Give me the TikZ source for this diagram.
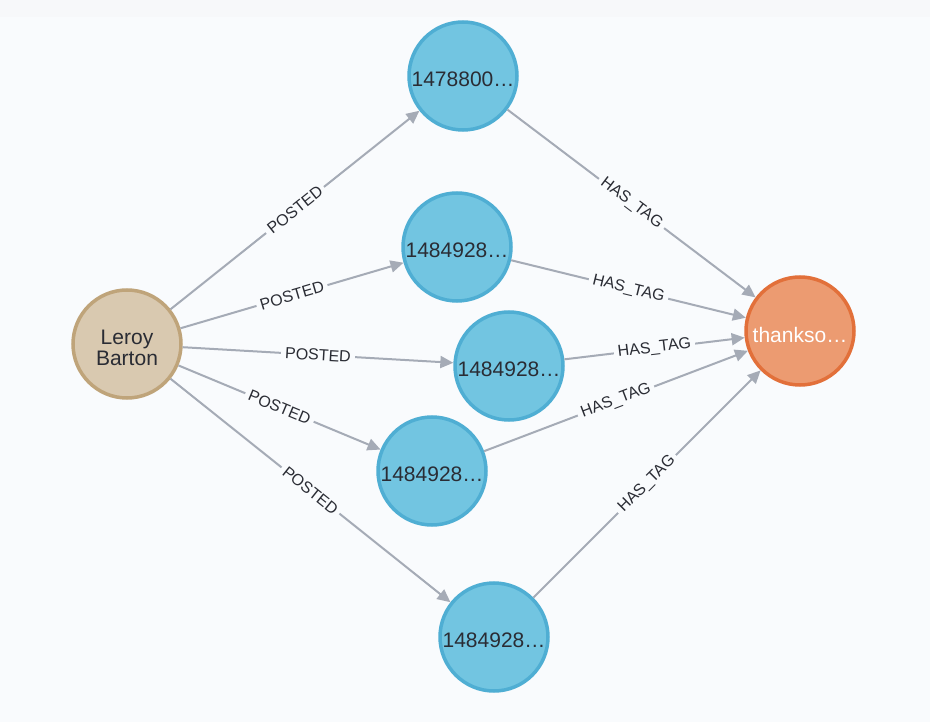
\documentclass[tikz,border=0pt]{standalone}
\usepackage{fontspec}
\setmainfont{Liberation Sans}
\usetikzlibrary{arrows.meta}
\definecolor{bg}{HTML}{F9FBFD}
\definecolor{bgtop}{HTML}{F7F8FA}
\definecolor{edgec}{HTML}{A5ABB6}
\definecolor{bluefill}{HTML}{72C5E1}
\definecolor{blueline}{HTML}{4FAED3}
\definecolor{tanfill}{HTML}{D9C9B0}
\definecolor{tanline}{HTML}{BFA47A}
\definecolor{orfill}{HTML}{EC9B71}
\definecolor{orline}{HTML}{E2703A}
\definecolor{txt}{HTML}{2A2C34}
\newcommand{\lowtxt}[1]{\raisebox{-3.5pt}[\height][\depth]{#1}}
\tikzset{
  gnode/.style={circle, minimum size=108pt, inner sep=0pt, line width=3.5pt,
    font=\fontsize{21}{21}\selectfont, text=txt, align=center},
  person/.style={gnode, fill=tanfill, draw=tanline},
  post/.style={gnode, fill=bluefill, draw=blueline},
  tagn/.style={gnode, fill=orfill, draw=orline, text=white},
  edge/.style={draw=edgec, line width=2pt, -{Triangle[length=13pt,width=12pt]}},
  lbl/.style={midway, sloped, fill=bg, inner xsep=4pt, inner ysep=1pt,
    font=\fontsize{16}{16}\selectfont, text=txt}
}
\begin{document}
\begin{tikzpicture}[x=1pt,y=-1pt]
\fill[bg] (0,0) rectangle (930,722);
\fill[bgtop] (0,0) rectangle (930,17);
\useasboundingbox (0,0) rectangle (930,722);

\node[person] (lb) at (127,344) {\lowtxt{Leroy}\\\lowtxt{Barton}};
\node[post] (p1) at (463,76) {\lowtxt{1478800…}};
\node[post] (p2) at (457,247) {\lowtxt{1484928…}};
\node[post] (p3) at (509,366) {\lowtxt{1484928…}};
\node[post] (p4) at (432,471) {\lowtxt{1484928…}};
\node[post] (p5) at (494,637) {\lowtxt{1484928…}};
\node[tagn] (t) at (800,331) {\lowtxt{thankso…}};

\draw[edge] (lb) -- node[lbl]{POSTED} (p1);
\draw[edge] (lb) -- node[lbl]{POSTED} (p2);
\draw[edge] (lb) -- node[lbl]{POSTED} (p3);
\draw[edge] (lb) -- node[lbl]{POSTED} (p4);
\draw[edge] (lb) -- node[lbl]{POSTED} (p5);

\draw[edge] (p1) -- node[lbl]{HAS\_TAG} (t);
\draw[edge] (p2) -- node[lbl]{HAS\_TAG} (t);
\draw[edge] (p3) -- node[lbl]{HAS\_TAG} (t);
\draw[edge] (p4) -- node[lbl]{HAS\_TAG} (t);
\draw[edge] (p5) -- node[lbl]{HAS\_TAG} (t);
\end{tikzpicture}
\end{document}
